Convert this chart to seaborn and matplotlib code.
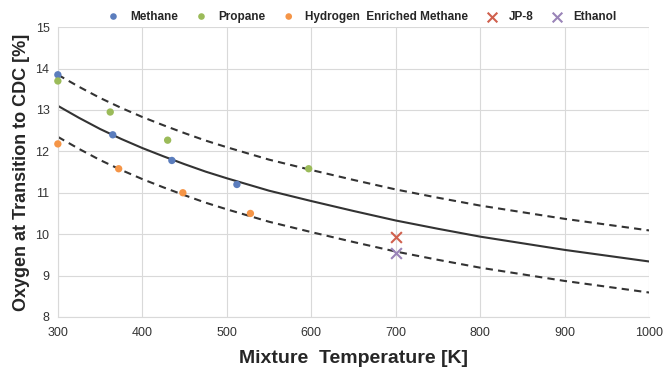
import pandas as pd
from matplotlib import pyplot as plt
import seaborn as sns

# data
methane_t = [300, 365, 435, 512]
methane_o2 = [13.85, 12.4, 11.78, 11.2]
propane_t = [300, 362, 430, 597]
propane_o2 = [13.7, 12.95, 12.27, 11.58]
hem_t = [300, 372, 448, 528]
hem_o2 = [12.18, 11.58, 11.0, 10.5]
jp8_t = [700]
jp8_o2 = [9.93]
ethanol_t = [700]
ethanol_o2 = [9.55]

curve_t = [300, 325, 350, 375, 400, 425, 450, 475, 500, 550, 600, 650, 700, 750,
           800, 850, 900, 950, 1000]
curve_mid = [13.10, 12.81, 12.54, 12.30, 12.08, 11.88, 11.69, 11.51, 11.35, 11.05,
             10.80, 10.56, 10.33, 10.13, 9.94, 9.78, 9.62, 9.48, 9.34]
curve_upper = [13.85, 13.56, 13.29, 13.05, 12.83, 12.63, 12.44, 12.26, 12.10, 11.80,
               11.55, 11.31, 11.08, 10.88, 10.69, 10.53, 10.37, 10.23, 10.09]
curve_lower = [12.35, 12.06, 11.79, 11.55, 11.33, 11.13, 10.94, 10.76, 10.60, 10.30,
               10.05, 9.81, 9.58, 9.38, 9.19, 9.03, 8.87, 8.73, 8.59]

if __name__ == '__main__':
    sns.set_style('whitegrid', {'grid.color': '#d9d9d9', 'axes.edgecolor': '#d9d9d9'})
    plt.rcParams['font.family'] = ['Liberation Sans', 'DejaVu Sans']

    fig, ax = plt.subplots(figsize=(6.65, 3.72), dpi=100)
    fig.subplots_adjust(left=0.087, right=0.976, top=0.927, bottom=0.148)

    curves = pd.DataFrame({'T': curve_t, 'mid': curve_mid,
                           'upper': curve_upper, 'lower': curve_lower})
    sns.lineplot(data=curves, x='T', y='mid', color='#333333', lw=1.5, ax=ax)
    sns.lineplot(data=curves, x='T', y='upper', color='#333333', lw=1.5,
                 ax=ax, linestyle=(0, (3.5, 2.5)))
    sns.lineplot(data=curves, x='T', y='lower', color='#333333', lw=1.5,
                 ax=ax, linestyle=(0, (3.5, 2.5)))

    # Точки
    sns.scatterplot(x=methane_t, y=methane_o2, color='#5b7dbd', s=28, edgecolor='none',
                    label='Methane', ax=ax, zorder=5, clip_on=False)
    sns.scatterplot(x=propane_t, y=propane_o2, color='#9bbb59', s=28, edgecolor='none',
                    label='Propane', ax=ax, zorder=5, clip_on=False)
    sns.scatterplot(x=hem_t, y=hem_o2, color='#f59547', s=28, edgecolor='none',
                    label='Hydrogen  Enriched Methane', ax=ax, zorder=5, clip_on=False)
    sns.scatterplot(x=jp8_t, y=jp8_o2, color='#d0604d', marker='x', s=60, linewidth=1.5,
                    label='JP-8', ax=ax, zorder=5)
    sns.scatterplot(x=ethanol_t, y=ethanol_o2, color='#9a84b8', marker='x', s=60,
                    linewidth=1.5, label='Ethanol', ax=ax, zorder=5)

    ax.set_xlim(300, 1000)
    ax.set_ylim(8, 15)
    ax.set_xticks(range(300, 1001, 100))
    ax.set_yticks(range(8, 16))
    ax.tick_params(axis='both', labelsize=9, length=0)
    ax.tick_params(axis='x', pad=7)
    ax.tick_params(axis='y', pad=6)
    for lbl in ax.get_xticklabels() + ax.get_yticklabels():
        lbl.set_color('#333333')
    ax.set_xlabel('Mixture  Temperature [K]', fontsize=14, fontweight='bold', labelpad=8)
    ax.set_ylabel('Oxygen at Transition to CDC [%]', fontsize=13, fontweight='bold',
                  labelpad=4)
    ax.spines['top'].set_visible(False)
    ax.spines['right'].set_visible(False)

    handles, labels = ax.get_legend_handles_labels()
    ax.get_legend().remove()
    fig.legend(handles, labels, loc='upper center', bbox_to_anchor=(0.54, 1.0), ncol=5,
               frameon=False, prop={'weight': 'bold', 'size': 8.5},
               handletextpad=0.4, columnspacing=1.0, markerscale=0.9)

    plt.savefig('out.png', dpi=100)
